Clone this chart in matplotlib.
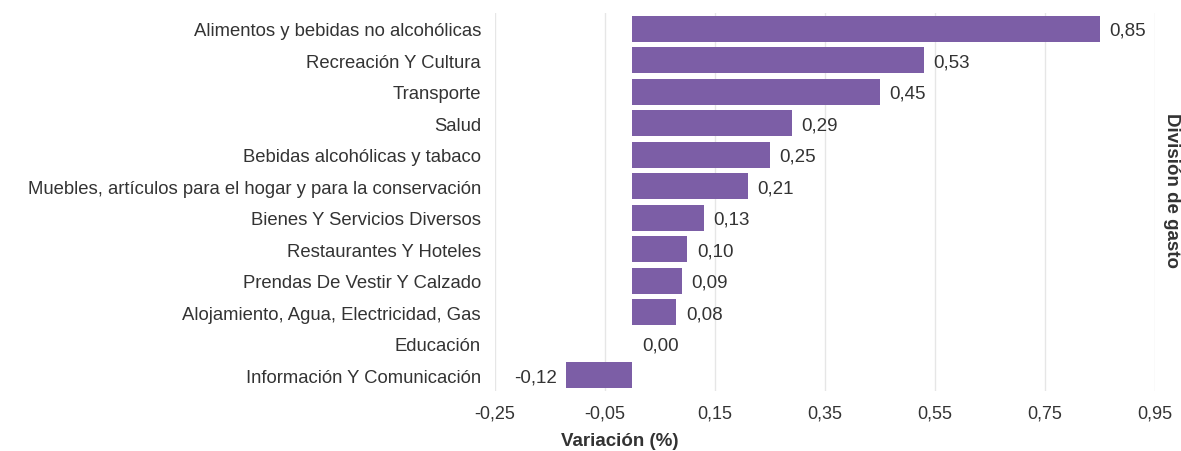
import matplotlib.pyplot as plt
import numpy as np

plt.rcParams['font.family'] = ['Liberation Sans', 'DejaVu Sans']

# divisiones de gasto, de mayor a menor variacion
categorias = ['Alimentos y bebidas no alcohólicas',
              'Recreación Y Cultura',
              'Transporte',
              'Salud',
              'Bebidas alcohólicas y tabaco',
              'Muebles, artículos para el hogar y para la conservación',
              'Bienes Y Servicios Diversos',
              'Restaurantes Y Hoteles',
              'Prendas De Vestir Y Calzado',
              'Alojamiento, Agua, Electricidad, Gas',
              'Educación',
              'Información Y Comunicación']
variacion = [0.85, 0.53, 0.45, 0.29, 0.25, 0.21, 0.13, 0.10, 0.09, 0.08,
             0.00, -0.12]
xticks = [-0.25, -0.05, 0.15, 0.35, 0.55, 0.75, 0.95]

color = '#7c5ea6'
gris = '#333333'

fig = plt.figure(figsize=(11.81, 4.52), dpi=100)
ax = fig.add_axes([0.419, 0.133, 0.559, 0.836])

y = np.arange(len(categorias))
ax.barh(y, variacion, height=0.82, color=color, zorder=2)

for yi, v in zip(y, variacion):
    txt = f'{v:.2f}'.replace('.', ',')
    if v < 0:
        ax.annotate(txt, (v, yi), xytext=(-7, -1), textcoords='offset points',
                    ha='right', va='center', fontsize=13.5, color=gris)
    else:
        ax.annotate(txt, (v, yi), xytext=(7, -1), textcoords='offset points',
                    ha='left', va='center', fontsize=13.5, color=gris)

ax.set_yticks(y)
ax.set_yticklabels(categorias, fontsize=13.3, color=gris)
ax.set_ylim(len(categorias) - 0.5, -0.5)

ax.set_xlim(-0.25, 0.95)
ax.set_xticks(xticks)
ax.set_xticklabels([f'{t:.2f}'.replace('.', ',') for t in xticks],
                   fontsize=13, color=gris)
ax.tick_params(axis='x', length=0, pad=10)
ax.tick_params(axis='y', length=0, pad=10)

ax.grid(axis='x', color='#e6e6e6', linewidth=1, zorder=0)
for s in ax.spines.values():
    s.set_visible(False)

fig.text(0.525, 0.004, 'Variación (%)', ha='center', va='bottom',
         fontsize=13.5, fontweight='bold', color=gris)
fig.text(0.992, 0.578, 'División de gasto', ha='center', va='center',
         rotation=270, fontsize=13.5, fontweight='bold', color=gris)

fig.savefig('out.png', dpi=100)
